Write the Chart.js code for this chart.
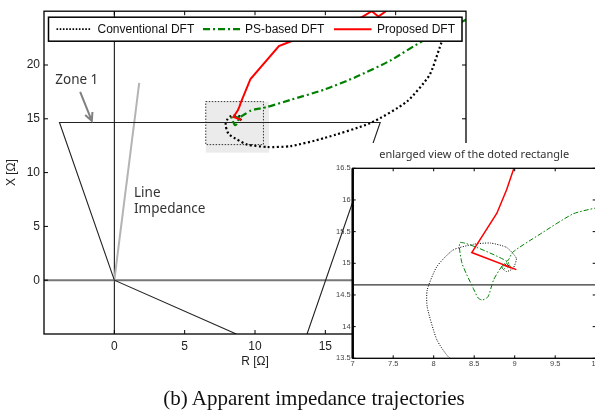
<!DOCTYPE html>
<html>
<head>
<meta charset="utf-8">
<script src="https://cdn.jsdelivr.net/npm/chart.js@4.4.1/dist/chart.umd.min.js"></script>
<style>
  html, body { margin: 0; padding: 0; background: #fff; overflow: hidden; }
  #wrap { position: relative; width: 595px; height: 415px; }
  #mainChart { position: absolute; left: 0; top: 0; }
  #insetChart { position: absolute; left: 330px; top: 140px; }
  #caption {
    position: absolute; left: 0; top: 386px; width: 628px; text-align: center;
    font-family: 'Liberation Serif', 'Times New Roman', serif; font-size: 21px;
    line-height: 24px; color: #111;
  }
</style>
</head>
<body>
<div id="wrap">
  <canvas id="mainChart" width="595" height="415"></canvas>
  <canvas id="insetChart" width="280" height="240"></canvas>
  <div id="caption">(b) Apparent impedance trajectories</div>
</div>
<script>
// trajectories (R, X in ohm)
const convR = [23.9, 23.5, 23.1, 22.4, 20.8, 18.2, 14.9, 12.5, 10.86, 9.45, 8.74, 8.2, 8.04, 7.92, 7.92, 8.04, 8.24, 8.49, 8.7, 8.9, 9.02, 8.98, 8.9, 8.85, 8.88, 8.93, 8.91];
const convX = [24.0, 23.0, 21.5, 19.05, 16.6, 14.6, 13.2, 12.45, 12.38, 12.6, 13.06, 13.5, 13.79, 14.31, 14.58, 14.95, 15.21, 15.3, 15.32, 15.25, 15.08, 14.92, 14.87, 14.92, 14.98, 14.96, 14.93];

const psR = [26, 25, 22.0, 19.6, 17.2, 14.9, 12.5, 10.86, 9.99, 9.72, 9.3, 8.98, 8.92, 8.84, 8.74, 8.67, 8.6, 8.55, 8.49, 8.35, 8.33, 8.92, 8.86, 8.84, 8.9, 8.95, 8.9];
const psX = [24.8, 24.2, 22.3, 20.4, 18.9, 17.7, 16.75, 16.1, 15.87, 15.78, 15.45, 15.18, 15.05, 14.95, 14.74, 14.47, 14.42, 14.45, 14.6, 15.0, 15.33, 15.02, 14.9, 14.95, 15.0, 14.95, 14.92];

const propR = [19.6, 19.25, 18.77, 18.3, 17.6, 15.2, 12.75, 11.7, 9.68, 8.99, 8.9, 8.78, 8.47, 9.02, 8.87, 8.98, 8.9, 8.95];
const propX = [25.6, 24.95, 24.5, 25.0, 24.45, 23.4, 22.3, 21.75, 18.7, 16.5, 16.16, 15.79, 15.17, 14.9, 14.97, 14.92, 14.96, 14.93];

// zone 1 characteristic and line impedance
const zoneR = [8.67, 0, -3.9, 18.9, 13.7];
const zoneX = [-5, 0, 14.66, 14.66, -5];
const lineR = [0, 1.77];
const lineX = [0, 18.34];
const arrowR = [-2.43, -1.6];
const arrowX = [17.5, 14.8];

// dotted rectangle (enlarged region) and its shading
const rectR = [6.5, 10.6];
const rectX = [12.6, 16.6];
const shadeR = [6.5, 11.0];
const shadeX = [11.85, 16.6];

// ticks
const mainTicks = [0, 5, 10, 15, 20];
const insetTitle = 'enlarged view of the doted rectangle';
const notes = [
  { text: 'Zone 1', r: -4.2, x: 18.57 },
  { text: 'Line', r: 1.4, x: 8.06 },
  { text: 'Impedance', r: 1.4, x: 6.59 }
];

Chart.defaults.font.family = "'Liberation Sans', Arial, sans-serif";

function pts(rs, xs) {
  return rs.map((r, i) => ({ x: r, y: xs[i] }));
}

function trajectories(inset) {
  return [
    { label: 'Proposed DFT', data: pts(propR, propX), borderColor: '#ff0000',
      borderWidth: inset ? 1.5 : 2, tension: 0 },
    { label: 'PS-based DFT', data: pts(psR, psX), borderColor: '#008000',
      borderWidth: inset ? 1 : 2.2, borderDash: inset ? [5, 2, 1.5, 2] : [7, 3, 2, 3], tension: 0.2 },
    { label: 'Conventional DFT', data: pts(convR, convX), borderColor: '#000',
      borderWidth: inset ? 1 : 2.2, borderDash: inset ? [1, 1.5] : [2, 2.5], tension: 0.2 }
  ];
}

function inwardTicks(chart, len, xs, ys) {
  const { ctx, chartArea: ca, scales: { x, y } } = chart;
  ctx.beginPath();
  xs.forEach(v => {
    const p = x.getPixelForValue(v);
    ctx.moveTo(p, ca.bottom); ctx.lineTo(p, ca.bottom - len);
    ctx.moveTo(p, ca.top); ctx.lineTo(p, ca.top + len);
  });
  ys.forEach(v => {
    const p = y.getPixelForValue(v);
    ctx.moveTo(ca.left, p); ctx.lineTo(ca.left + len, p);
    ctx.moveTo(ca.right, p); ctx.lineTo(ca.right - len, p);
  });
  ctx.stroke();
}

const mainDecor = {
  id: 'mainDecor',
  beforeDatasetsDraw(chart) {
    const { ctx, scales: { x, y } } = chart;
    ctx.save();
    ctx.fillStyle = 'rgba(0,0,0,0.08)';
    ctx.fillRect(x.getPixelForValue(shadeR[0]), y.getPixelForValue(shadeX[1]),
      x.getPixelForValue(shadeR[1]) - x.getPixelForValue(shadeR[0]),
      y.getPixelForValue(shadeX[0]) - y.getPixelForValue(shadeX[1]));
    ctx.setLineDash([1.5, 1.5]);
    ctx.strokeStyle = '#333';
    ctx.lineWidth = 1;
    ctx.strokeRect(x.getPixelForValue(rectR[0]), y.getPixelForValue(rectX[1]),
      x.getPixelForValue(rectR[1]) - x.getPixelForValue(rectR[0]),
      y.getPixelForValue(rectX[0]) - y.getPixelForValue(rectX[1]));
    ctx.restore();
  },
  afterDatasetsDraw(chart) {
    const { ctx, chartArea: ca, scales: { x, y } } = chart;
    ctx.save();
    // box + ticks
    ctx.strokeStyle = '#000';
    ctx.lineWidth = 1.3;
    ctx.strokeRect(ca.left, ca.top, ca.width, ca.height);
    ctx.lineWidth = 1;
    inwardTicks(chart, 4, mainTicks, mainTicks);

    // zone 1 arrow
    const ax0 = x.getPixelForValue(arrowR[0]), ay0 = y.getPixelForValue(arrowX[0]);
    const ax1 = x.getPixelForValue(arrowR[1]), ay1 = y.getPixelForValue(arrowX[1]);
    const ang = Math.atan2(ay1 - ay0, ax1 - ax0);
    ctx.strokeStyle = '#808080';
    ctx.lineWidth = 2;
    ctx.beginPath();
    ctx.moveTo(ax0, ay0); ctx.lineTo(ax1, ay1);
    ctx.moveTo(ax1 - 9 * Math.cos(ang - 0.45), ay1 - 9 * Math.sin(ang - 0.45));
    ctx.lineTo(ax1, ay1);
    ctx.lineTo(ax1 - 9 * Math.cos(ang + 0.45), ay1 - 9 * Math.sin(ang + 0.45));
    ctx.stroke();

    // notes
    ctx.fillStyle = '#333';
    ctx.font = "13.5px 'Noto Sans', sans-serif";
    ctx.textBaseline = 'middle';
    ctx.textAlign = 'left';
    notes.forEach(n => ctx.fillText(n.text, x.getPixelForValue(n.r), y.getPixelForValue(n.x)));

    // legend
    const lx = ca.left + 4.5, ly = ca.top + 6;
    ctx.fillStyle = '#fff';
    ctx.fillRect(lx, ly, 413.5, 24);
    ctx.strokeStyle = '#000';
    ctx.lineWidth = 1.5;
    ctx.strokeRect(lx, ly, 413.5, 24);
    const samples = [
      { ds: 2, x0: 12.5, x1: 47.5, tx: 53.5, w: 1.8, dash: [1.6, 1.6] },
      { ds: 1, x0: 159, x1: 196, tx: 201, w: 2.2, dash: [7, 3, 2, 3] },
      { ds: 0, x0: 290, x1: 327.5, tx: 333, w: 2, dash: [] }
    ];
    ctx.font = "12px 'Liberation Sans', Arial, sans-serif";
    samples.forEach(s => {
      const d = chart.data.datasets[s.ds];
      ctx.strokeStyle = d.borderColor;
      ctx.lineWidth = s.w;
      ctx.setLineDash(s.dash);
      ctx.beginPath();
      ctx.moveTo(ca.left + s.x0, ly + 12);
      ctx.lineTo(ca.left + s.x1, ly + 12);
      ctx.stroke();
      ctx.setLineDash([]);
      ctx.fillStyle = '#111';
      ctx.fillText(d.label, ca.left + s.tx, ly + 12.5);
    });
    ctx.restore();
  }
};

const insetDecor = {
  id: 'insetDecor',
  beforeDraw(chart) {
    const { ctx, chartArea: ca } = chart;
    ctx.save();
    ctx.fillStyle = '#fff';
    ctx.fillRect(ca.left, 3, chart.width - ca.left, ca.bottom - 2);
    ctx.fillStyle = '#333';
    ctx.font = "11px 'Noto Sans', sans-serif";
    ctx.textAlign = 'center';
    ctx.textBaseline = 'middle';
    ctx.fillText(insetTitle, (ca.left + ca.right) / 2, ca.top - 13);
    ctx.restore();
  },
  afterDatasetsDraw(chart) {
    const { ctx, chartArea: ca, scales: { x, y } } = chart;
    ctx.save();
    ctx.strokeStyle = '#000';
    ctx.lineWidth = 1.3;
    ctx.strokeRect(ca.left, ca.top, ca.width, ca.height);
    ctx.lineWidth = 2.5;
    ctx.beginPath();
    ctx.moveTo(ca.left, ca.top); ctx.lineTo(ca.left, ca.bottom);
    ctx.stroke();
    ctx.lineWidth = 1;
    inwardTicks(chart, 3, x.ticks.map(t => t.value), y.ticks.map(t => t.value));
    ctx.restore();
  }
};

const lineDefaults = { showLine: true, pointRadius: 0, fill: false };
const noGrid = { display: false, drawTicks: false };

// main chart
new Chart(document.getElementById('mainChart'), {
  type: 'scatter',
  data: {
    datasets: [
      ...trajectories(false),
      { label: 'zone', data: pts(zoneR, zoneX), borderColor: '#222', borderWidth: 1.1 },
      { label: 'line', data: pts(lineR, lineX), borderColor: '#b4b4b4', borderWidth: 2 },
      { label: 'xaxis', data: pts([-5, 25], [0, 0]), borderColor: '#777', borderWidth: 2 },
      { label: 'yaxis', data: pts([0, 0], [-5, 25]), borderColor: '#000', borderWidth: 1 }
    ].map(d => Object.assign({}, lineDefaults, d))
  },
  options: {
    responsive: false,
    animation: false,
    devicePixelRatio: 1,
    layout: { padding: { left: 0, top: 8, right: 129, bottom: 42 } },
    plugins: { legend: { display: false }, tooltip: { enabled: false } },
    scales: {
      x: {
        type: 'linear', min: -5, max: 25,
        grid: noGrid, border: { display: false },
        ticks: { stepSize: 5, padding: 5, color: '#222', font: { size: 12 },
          callback: v => mainTicks.includes(v) ? String(v) : '' },
        title: { display: true, text: 'R [Ω]', color: '#222', font: { size: 12 } },
        afterFit: s => { s.height = 39; }
      },
      y: {
        type: 'linear', min: -5, max: 25,
        grid: noGrid, border: { display: false },
        ticks: { stepSize: 5, padding: 4, color: '#222', font: { size: 12 },
          callback: v => mainTicks.includes(v) ? String(v) : '' },
        title: { display: true, text: 'X [Ω]', color: '#222', font: { size: 12 } },
        afterFit: s => { s.width = 44; }
      }
    }
  },
  plugins: [mainDecor]
});

// enlarged view
new Chart(document.getElementById('insetChart'), {
  type: 'scatter',
  data: {
    datasets: [
      ...trajectories(true),
      { label: 'zone', data: pts(zoneR, zoneX), borderColor: '#333', borderWidth: 1.2 }
    ].map(d => Object.assign({}, lineDefaults, d))
  },
  options: {
    responsive: false,
    animation: false,
    devicePixelRatio: 1,
    layout: { padding: { left: 0, top: 28.3, right: 14.3, bottom: 9.7 } },
    plugins: { legend: { display: false }, tooltip: { enabled: false } },
    scales: {
      x: {
        type: 'linear', min: 7, max: 10,
        grid: noGrid, border: { display: false },
        ticks: { stepSize: 0.5, padding: 1.5, color: '#444', font: { size: 7.5 },
          callback: v => String(+v.toFixed(1)) },
        afterFit: s => { s.height = 12; }
      },
      y: {
        type: 'linear', min: 13.5, max: 16.5,
        grid: noGrid, border: { display: false },
        ticks: { stepSize: 0.5, padding: 2, color: '#444', font: { size: 7.5 },
          callback: v => String(+v.toFixed(1)) },
        afterFit: s => { s.width = 22.7; }
      }
    }
  },
  plugins: [insetDecor]
});
</script>
</body>
</html>
